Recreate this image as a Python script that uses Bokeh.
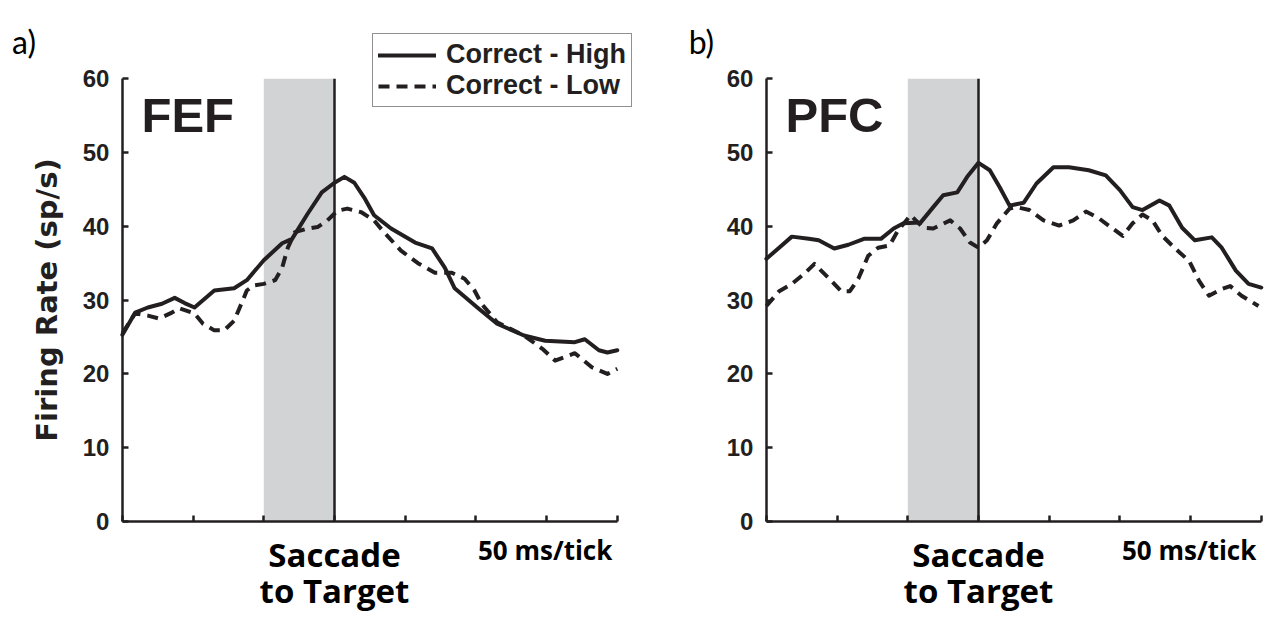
from bokeh.plotting import figure
from bokeh.models import Label, Legend, LegendItem, FixedTicker
from bokeh.layouts import row
from bokeh.embed import file_html
from bokeh.resources import INLINE

# ---- data -------------------------------------------------------------
# time relative to saccade onset (ms) and firing rate (spikes/s)
TIME_TICKS = [-150, -100, -50, 0, 50, 100, 150, 200]
RATE_TICKS = [0, 10, 20, 30, 40, 50, 60]
SHADE_WINDOW = [-50, 0]          # pre-saccade analysis window (ms)
SACCADE_ONSET = [0]
SERIES_LABELS = ["Correct - High", "Correct - Low"]

fef_high_t = [-150, -141, -132, -122, -113, -106, -99, -85, -71, -62, -50, -37, -30,
              -19, -9, 0, 7, 14, 21, 28, 40, 57, 69, 78, 85, 101, 115, 134, 149,
              170, 177, 187, 193, 200]
fef_high = [25.3, 28.3, 29.0, 29.5, 30.3, 29.6, 29.0, 31.3, 31.6, 32.7, 35.4, 37.7, 38.3,
            41.7, 44.6, 45.9, 46.7, 45.9, 43.9, 41.5, 39.7, 37.8, 37.0, 34.4, 31.6, 29.0,
            26.8, 25.2, 24.5, 24.3, 24.7, 23.2, 22.9, 23.2]

fef_low_t = [-150, -141, -132, -124, -115, -110, -99, -93, -85, -78, -71, -67, -62, -57,
             -50, -42, -37, -33, -28, -21, -12, -5, 2, 9, 19, 28, 35, 47, 59, 71, 83,
             92, 99, 104, 115, 134, 147, 156, 170, 182, 193, 200]
fef_low = [25.5, 28.2, 27.9, 27.5, 28.3, 28.9, 28.2, 26.8, 25.9, 25.9, 27.2, 29.0, 31.3,
           32.0, 32.2, 32.7, 34.4, 37.1, 39.2, 39.6, 39.9, 40.8, 42.1, 42.4, 41.9, 40.8,
           39.2, 36.7, 35.0, 33.7, 33.7, 32.9, 31.3, 29.5, 27.0, 25.2, 23.4, 21.8, 22.8,
           20.9, 20.0, 20.7]

pfc_high_t = [-150, -141, -132, -120, -113, -102, -92, -81, -69, -60, -53, -41, -32, -25,
              -15, -8, 0, 8, 15, 22, 32, 41, 53, 64, 78, 90, 100, 109, 116, 128, 135,
              144, 153, 165, 172, 182, 191, 200]
pfc_high = [35.6, 37.1, 38.6, 38.3, 38.1, 37.0, 37.5, 38.3, 38.3, 39.7, 40.4, 40.5, 42.6,
            44.2, 44.6, 46.7, 48.6, 47.6, 45.3, 42.8, 43.2, 45.8, 48.0, 48.0, 47.6, 46.9,
            44.9, 42.6, 42.2, 43.5, 42.8, 39.8, 38.1, 38.5, 37.1, 34.0, 32.2, 31.7]

pfc_low_t = [-150, -141, -132, -123, -116, -106, -97, -91, -85, -78, -71, -63, -57, -48,
             -39, -32, -20, -13, -6, 0, 6, 13, 22, 27, 36, 46, 57, 67, 76, 85, 97, 102,
             109, 116, 123, 130, 139, 149, 156, 163, 172, 178, 186, 198]
pfc_low = [29.2, 31.2, 32.2, 33.6, 34.9, 33.0, 31.2, 31.2, 32.9, 36.0, 37.1, 37.4, 39.4,
           41.5, 39.8, 39.7, 40.8, 39.7, 37.8, 37.1, 38.1, 40.4, 42.4, 42.6, 42.2, 40.8,
           40.1, 40.8, 42.0, 41.1, 39.4, 38.7, 40.4, 41.6, 40.8, 38.7, 37.0, 35.3, 32.6,
           30.6, 31.5, 31.9, 30.6, 29.2]

INK = "#231f20"
SHADE = "#d1d3d4"
TICK_FONT = "Liberation Sans"
PX_PER_MS = 1.414
PX_PER_RATE = 7.38
HEIGHT = 623
AXIS_BOTTOM_PX = 521      # canvas row of the time axis


def make_panel(width, onset_px, area, letter, letter_x,
               high_t, high, low_t, low, ylabel=None, legend=False):
    # the frame fills the whole canvas so that labels around the axes are not clipped;
    # axes sit at fixed data locations inside it
    x_range = (-onset_px / PX_PER_MS, (width - onset_px) / PX_PER_MS)
    y_range = (-(HEIGHT - AXIS_BOTTOM_PX) / PX_PER_RATE, AXIS_BOTTOM_PX / PX_PER_RATE)
    p = figure(width=width, height=HEIGHT, x_range=x_range, y_range=y_range,
               output_backend="svg", toolbar_location=None,
               min_border=0, min_border_left=0, min_border_right=0,
               min_border_top=0, min_border_bottom=0)
    p.outline_line_color = None
    p.grid.visible = False
    p.background_fill_color = "white"
    p.border_fill_color = "white"

    t0, t1 = TIME_TICKS[0], TIME_TICKS[-1]
    r0, r1 = RATE_TICKS[0], RATE_TICKS[-1]

    # pre-saccade window and saccade onset
    p.quad(left=[SHADE_WINDOW[0]], right=[SHADE_WINDOW[1]], bottom=[r0], top=[r1],
           fill_color=SHADE, line_color=None)
    p.segment(x0=SACCADE_ONSET, y0=[r0], x1=SACCADE_ONSET, y1=[r1],
              line_color=INK, line_width=2.5)

    r_high = p.line(high_t, high, line_color=INK, line_width=4, line_join="round",
                    line_cap="round")
    r_low = p.line(low_t, low, line_color=INK, line_width=4, line_dash="11 7",
                   line_join="round")

    # axes
    xa = p.xaxis[0]
    xa.fixed_location = r0
    xa.bounds = (t0, t1)
    xa.ticker = FixedTicker(ticks=TIME_TICKS)
    xa.major_label_overrides = {t: "" for t in TIME_TICKS}
    xa.minor_tick_line_color = None
    xa.major_tick_in = 6
    xa.major_tick_out = 0
    xa.axis_line_width = 2.5
    xa.major_tick_line_width = 2.5
    xa.axis_line_color = INK
    xa.major_tick_line_color = INK

    ya = p.yaxis[0]
    ya.fixed_location = t0
    ya.bounds = (r0, r1)
    ya.ticker = FixedTicker(ticks=RATE_TICKS)
    ya.minor_tick_line_color = None
    ya.major_tick_in = 6
    ya.major_tick_out = 0
    ya.axis_line_width = 2.5
    ya.major_tick_line_width = 2.5
    ya.axis_line_color = INK
    ya.major_tick_line_color = INK
    ya.major_label_standoff = 13
    ya.major_label_text_font = TICK_FONT
    ya.major_label_text_font_style = "bold"
    ya.major_label_text_font_size = "24px"
    ya.major_label_text_color = INK
    if ylabel:
        ya.axis_label = ylabel
        ya.axis_label_text_font = "DejaVu Sans"
        ya.axis_label_text_font_style = "bold"
        ya.axis_label_text_font_size = "29px"
        ya.axis_label_text_color = INK
        ya.axis_label_standoff = 16

    # area name inside the frame
    p.add_layout(Label(x=-136.5, y=55.1, text=area, text_font="Liberation Sans",
                       text_font_style="bold", text_font_size="49px",
                       text_color=INK, text_baseline="alphabetic"))
    # event and scale labels below the time axis
    p.add_layout(Label(x=SACCADE_ONSET[0], y=-4.5, text="Saccade", text_font="Open Sans",
                       text_font_style="bold", text_font_size="33px", text_color="black",
                       text_align="center", text_baseline="alphabetic"))
    p.add_layout(Label(x=SACCADE_ONSET[0], y=-9.4, text="to Target", text_font="Open Sans",
                       text_font_style="bold", text_font_size="33px", text_color="black",
                       text_align="center", text_baseline="alphabetic"))
    p.add_layout(Label(x=196.5, y=-3.9, text="50 ms/tick", text_font="Open Sans",
                       text_font_style="bold", text_font_size="26px", text_color="black",
                       text_align="right", text_baseline="alphabetic"))
    # panel letter
    p.add_layout(Label(x=letter_x, y=65.0, text=letter, text_font="Lato",
                       text_font_size="32px", text_color="black",
                       text_baseline="alphabetic"))

    if legend:
        lg = Legend(items=[LegendItem(label=SERIES_LABELS[0], renderers=[r_high]),
                           LegendItem(label=SERIES_LABELS[1], renderers=[r_low])],
                    location=(372, HEIGHT - 107), orientation="vertical")
        lg.label_text_font = TICK_FONT
        lg.label_text_font_style = "bold"
        lg.label_text_font_size = "27px"
        lg.label_text_color = INK
        lg.label_standoff = 10
        lg.label_height = 30
        lg.glyph_width = 58
        lg.glyph_height = 30
        lg.padding = 5
        lg.spacing = 0
        lg.margin = 0
        lg.border_line_color = INK
        lg.border_line_width = 1.5
        lg.background_fill_color = "white"
        lg.background_fill_alpha = 1.0
        p.add_layout(lg, "center")
    return p


left = make_panel(640, 334, "FEF", "a)", -228, fef_high_t, fef_high,
                  fef_low_t, fef_low, ylabel="Firing Rate (sp/s)", legend=True)
right = make_panel(632, 338, "PFC", "b)", -205, pfc_high_t, pfc_high,
                   pfc_low_t, pfc_low)

layout = row(left, right)
open("out.html", "w").write(file_html(layout, INLINE))
